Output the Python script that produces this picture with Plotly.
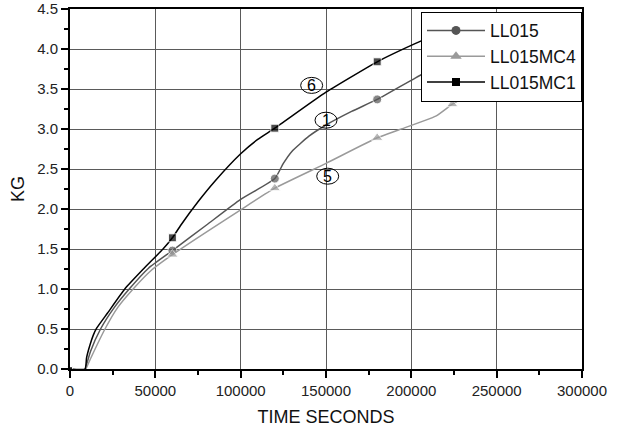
import plotly.graph_objects as go

# ---- data ----
ll015_x = [9000, 12000, 17900, 26000, 34700, 46000, 60000, 80000, 100000, 120000, 125000, 130000,
           140000, 150000, 165000, 180000, 202500, 230000]
ll015_y = [0.0, 0.22, 0.50, 0.77, 1.00, 1.26, 1.48, 1.80, 2.12, 2.38, 2.57, 2.72,
           2.91, 3.05, 3.22, 3.37, 3.64, 3.95]
ll015_marks = [60000, 120000, 180000]

ll015mc4_x = [9300, 12500, 20500, 28000, 37000, 48000, 60000, 100000, 120000, 150000, 180000,
              192800, 214300, 224000, 244500, 250000]
ll015mc4_y = [0.0, 0.15, 0.50, 0.77, 1.00, 1.24, 1.43, 1.99, 2.26, 2.57, 2.89,
              2.99, 3.16, 3.31, 3.57, 3.64]
ll015mc4_marks = [60000, 120000, 180000, 224000]

ll015mc1_x = [0, 8800, 9700, 11700, 13600, 15600, 22000, 32100, 43000, 54500, 60000, 65000,
              75000, 85000, 100000, 110000, 120000, 150000, 180000, 202500, 230000]
ll015mc1_y = [0.0, 0.0, 0.14, 0.30, 0.42, 0.51, 0.70, 1.00, 1.25, 1.50, 1.64, 1.80,
              2.09, 2.35, 2.69, 2.87, 3.01, 3.46, 3.84, 4.07, 4.32]
ll015mc1_marks = [0, 60000, 120000, 180000]

label_text = ["6", "1", "5"]
label_x = [141600, 150000, 151000]
label_y = [3.545, 3.11, 2.41]

FONT = "Liberation Sans, Arial, sans-serif"

series = [
    ("LL015", ll015_x, ll015_y, ll015_marks, "#555555", "circle", 9),
    ("LL015MC4", ll015mc4_x, ll015mc4_y, ll015mc4_marks, "#9a9a9a", "triangle-up", 10),
    ("LL015MC1", ll015mc1_x, ll015mc1_y, ll015mc1_marks, "#000000", "square", 8),
]

fig = go.Figure()
for name, xs, ys, marks, col, sym, ms in series:
    fig.add_trace(go.Scatter(x=xs, y=ys, mode="lines",
                             line=dict(color=col, width=1.5, shape="spline", smoothing=0.5),
                             showlegend=False, legendgroup=name, hoverinfo="skip"))
    mx = [x for x in xs if x in marks]
    my = [y for x, y in zip(xs, ys) if x in marks]
    sizes = [5 if x == 0 else ms for x in mx]
    fig.add_trace(go.Scatter(x=mx, y=my, mode="markers", marker=dict(color=col, symbol=sym, size=sizes),
                             showlegend=False, legendgroup=name, cliponaxis=False))
    fig.add_trace(go.Scatter(x=[None], y=[None], mode="lines+markers", name=name,
                             line=dict(color=col, width=1.5), marker=dict(color=col, symbol=sym, size=ms),
                             legendgroup=name))

for t, x, y in zip(label_text, label_x, label_y):
    fig.add_shape(type="circle", xref="x", yref="y", xsizemode="pixel", ysizemode="pixel",
                  xanchor=x, yanchor=y, x0=-11, x1=11, y0=-8, y1=8,
                  line=dict(color="black", width=1))
    fig.add_annotation(x=x, y=y, text=t, showarrow=False, font=dict(family=FONT, size=16, color="black"))

axis_common = dict(showline=True, linecolor="black", linewidth=2, mirror=True,
                   showgrid=True, gridcolor="#5a5a5a", gridwidth=1, zeroline=False,
                   ticks="outside", ticklen=7, tickwidth=1.5, tickcolor="black", automargin=False,
                   tickfont=dict(family=FONT, size=15, color="#222222"))

fig.update_xaxes(range=[0, 300000], dtick=50000, tick0=0, tickformat="d",
                 minor=dict(dtick=25000, ticks="outside", ticklen=4, tickcolor="black", showgrid=False),
                 title=dict(text="TIME SECONDS", font=dict(family=FONT, size=18, color="#111111"), standoff=12),
                 **axis_common)
fig.update_yaxes(range=[0, 4.5], dtick=0.5, tick0=0, tickformat=".1f",
                 minor=dict(dtick=0.25, ticks="outside", ticklen=4, tickcolor="black", showgrid=False),
                 title=dict(text="KG", font=dict(family=FONT, size=18, color="#111111"), standoff=8),
                 **axis_common)

fig.update_layout(
    width=618, height=427,
    margin=dict(l=70, r=36, t=9, b=58, autoexpand=False),
    paper_bgcolor="white", plot_bgcolor="white",
    font=dict(family=FONT),
    legend=dict(x=1, y=0.993, xanchor="right", yanchor="top", bgcolor="white",
                bordercolor="black", borderwidth=1, font=dict(family=FONT, size=17.5, color="#111111"),
                tracegroupgap=0, itemwidth=58),
)

fig.write_html("out.html", config={"displayModeBar": False},
               post_script="document.body.style.margin='0';")
